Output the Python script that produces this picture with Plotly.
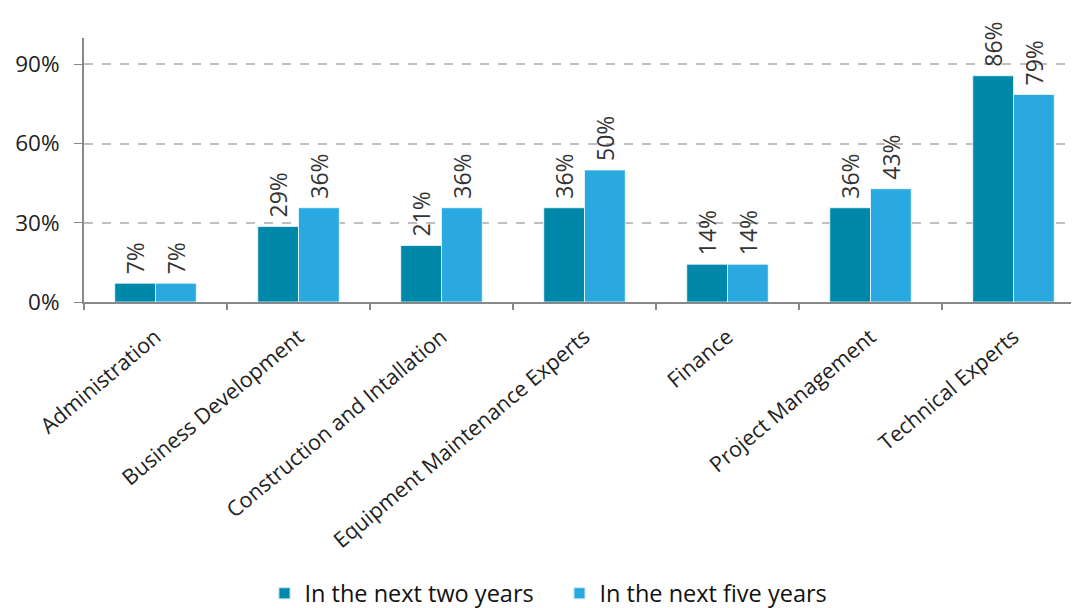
import plotly.graph_objects as go

categories = ["Administration", "Business Development", "Construction and Intallation",
              "Equipment Maintenance Experts", "Finance", "Project Management", "Technical Experts"]
two_years = [7.1, 28.6, 21.4, 35.7, 14.3, 35.7, 85.7]
five_years = [7.1, 35.7, 35.7, 50.0, 14.3, 42.9, 78.6]
series_names = ["In the next two years", "In the next five years"]
y_ticks = [0, 30, 60, 90]
y_tick_labels = ["0%", "30%", "60%", "90%"]

colors = ["#0088AA", "#29A9E0"]
font = "Open Sans, DejaVu Sans, sans-serif"

fig = go.Figure()
for name, vals, col in zip(series_names, [two_years, five_years], colors):
    fig.add_trace(go.Bar(
        x=categories, y=vals, name=name,
        marker=dict(color=col, line=dict(color="rgba(255,255,255,0.7)", width=1)),
        text=[f" {v:.0f}%" for v in vals],
        textposition="outside", textangle=-90, constraintext="none",
        textfont=dict(family=font, size=23, color="#333333"),
        cliponaxis=False,
    ))

fig.update_layout(
    width=1079, height=608,
    margin=dict(l=76, r=2, t=30, b=314, autoexpand=False),
    paper_bgcolor="white", plot_bgcolor="white",
    barmode="group", bargap=0.43, bargroupgap=0,
    font=dict(family=font, color="#222222"),
    showlegend=True,
    legend=dict(orientation="h", x=0.475, xanchor="center", y=-1.104, yanchor="middle",
                font=dict(family=font, size=23.5, color="#111111"),
                entrywidth=250, entrywidthmode="pixels",
                itemsizing="constant", traceorder="normal"),
)
fig.update_xaxes(
    range=[-0.5, 6.5], automargin=False,
    showline=True, linecolor="#888888", linewidth=2,
    ticks="outside", tickson="boundaries", ticklen=6, tickcolor="#888888", tickwidth=2,
    tickangle=-40, tickfont=dict(family=font, size=21.5, color="#222222"),
    ticklabelstandoff=12,
    showgrid=False,
)
fig.update_yaxes(
    range=[0, 100], automargin=False,
    tickvals=y_ticks, ticktext=y_tick_labels,
    showline=True, linecolor="#888888", linewidth=2,
    ticks="outside", ticklen=8, tickcolor="#888888", tickwidth=1,
    tickfont=dict(family=font, size=22.5, color="#222222"),
    ticklabelstandoff=10,
    showgrid=True, gridcolor="#BFBFBF", griddash="dash", gridwidth=1.5,
    zeroline=False,
)
fig.write_html("out.html")
